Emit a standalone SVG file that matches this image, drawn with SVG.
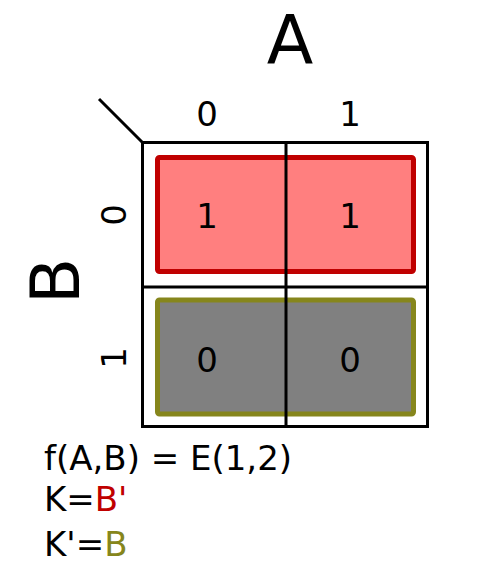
<svg xmlns="http://www.w3.org/2000/svg" width="500" height="572" viewBox="0 0 500 572">
<style>
text{font-family:"DejaVu Sans",sans-serif;fill:#000}
.big{font-size:68px;text-anchor:middle}
.lbl{font-size:34px;text-anchor:middle}
.eq{font-size:34px}
.grid{stroke:#000;stroke-width:3;fill:none}
</style>
<rect width="500" height="572" fill="#fff"/>
<g id="groupRed"><rect x="157.5" y="157.5" width="256" height="114" rx="2" fill="#ff7f7f" stroke="#c00000" stroke-width="5"/></g>
<g id="groupGray"><rect x="157.5" y="300" width="256" height="114" rx="2" fill="#808080" stroke="#86861c" stroke-width="5"/></g>
<g id="connectors">
<rect class="grid" x="142.5" y="142.5" width="285" height="284"/>
<line class="grid" x1="286" y1="142" x2="286" y2="427"/>
<line class="grid" x1="142" y1="287" x2="428" y2="287"/>
<line class="grid" x1="99" y1="99" x2="143" y2="143" stroke-width="2.5"/>
</g>
<g id="labels">
<text class="big" x="290" y="64">A</text>
<text class="big" transform="translate(79,281) rotate(-90)">B</text>
<text class="lbl" x="207" y="126">0</text>
<text class="lbl" x="350" y="126">1</text>
<text class="lbl" transform="translate(126,215) rotate(-90)">0</text>
<text class="lbl" transform="translate(126,358) rotate(-90)">1</text>
</g>
<g id="cells">
<text class="lbl" x="207" y="228">1</text>
<text class="lbl" x="350" y="228">1</text>
<text class="lbl" x="207" y="372">0</text>
<text class="lbl" x="350" y="372">0</text>
</g>
<g id="equations">
<text class="eq" x="44" y="470">f(A,B) = E(1,2)</text>
<text class="eq" x="44" y="511">K=<tspan fill="#c00000">B'</tspan></text>
<text class="eq" x="44" y="556">K'=<tspan fill="#86861c">B</tspan></text>
</g>
</svg>
